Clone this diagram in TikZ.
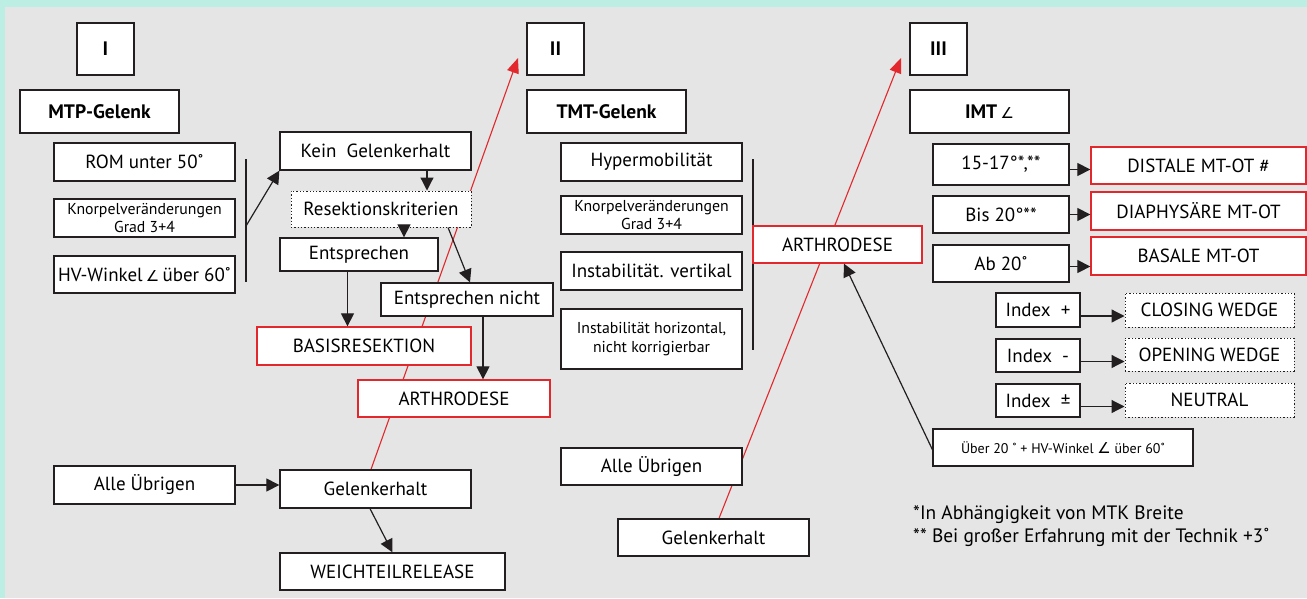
\documentclass[tikz,border=0pt]{standalone}
\usepackage{fontspec}
\setmainfont{PT Sans}
\newfontfamily\symf{DejaVu Sans}
\usetikzlibrary{arrows.meta}
\definecolor{bgteal}{HTML}{BDEEE3}
\definecolor{bggray}{HTML}{E4E5E4}
\definecolor{boxred}{HTML}{E2282C}
\definecolor{ink}{HTML}{231F20}
\newcommand{\ang}{{\symf\fontsize{15}{15}\selectfont ∠}}
\pgfdeclarelayer{bg}
\pgfsetlayers{bg,main}
\tikzset{
  box/.style={draw=ink, line width=1.3pt, fill=white, inner sep=0pt, align=center, font=\fontsize{19}{21}\selectfont},
  redbox/.style={box, draw=boxred},
  dotbox/.style={box, dotted, line width=1pt},
  small/.style={font=\fontsize{15.8}{18.5}\selectfont},
  hd/.style={font=\bfseries\fontsize{19.5}{21}\selectfont},
  arr/.style={-{Triangle[length=13pt,width=13pt]}, line width=1.2pt, draw=ink},
  redarr/.style={-{Triangle[length=15pt,width=12pt]}, line width=1.1pt, draw=boxred},
  bar/.style={line width=1.4pt, draw=ink}
}
\begin{document}
\begin{tikzpicture}[x=1pt,y=-1pt]
\begin{pgfonlayer}{bg}
\fill[bgteal] (0,0) rectangle (1307,598);
\fill[bggray] (5,7) rectangle (1307,598);
\end{pgfonlayer}
\useasboundingbox (0,0) rectangle (1307,598);

% ---------- I ----------
\node[box,hd,minimum width=57,minimum height=52] (nI) at (105.5,49) {I};
\node[box,hd,minimum width=159,minimum height=43] (mtp) at (99.5,111.5) {MTP-Gelenk};
\node[box,minimum width=181,minimum height=38] (rom) at (144.5,162) {ROM unter 50˚};
\node[box,small,minimum width=181,minimum height=38] (kn1) at (144.5,218) {Knorpelveränderungen\\Grad 3+4};
\node[box,minimum width=181,minimum height=37] (hv) at (144.5,274.5) {HV-Winkel\,\ang\,über 60˚};
\coordinate (v1t) at (246,159);
\coordinate (v1b) at (246,282);
\coordinate (v1) at (246,226);
\draw[bar] (v1t) -- (v1b);
\node[box,minimum width=191,minimum height=38] (kein) at (375.5,151) {Kein\ \ Gelenkerhalt};
\node[dotbox,minimum width=180,minimum height=36] (resek) at (381,209) {Resektionskriterien};
\node[box,minimum width=158,minimum height=33] (ents) at (359,254.5) {Entsprechen};
\node[box,minimum width=172,minimum height=33] (entsn) at (467,299.5) {Entsprechen nicht};
\node[redbox,minimum width=214,minimum height=38] (basis) at (364,346) {BASISRESEKTION};
\node[redbox,minimum width=192,minimum height=37] (arth1) at (454,398.5) {ARTHRODESE};
\node[box,minimum width=181,minimum height=38] (alle1) at (144.5,485) {Alle Übrigen};
\node[box,minimum width=191,minimum height=38] (gel1) at (375.5,489) {Gelenkerhalt};
\node[box,minimum width=225,minimum height=37] (weich) at (392.5,571.5) {WEICHTEILRELEASE};

\draw[arr] (v1) -- (kein.south west);
\draw[arr] ([xshift=51.5pt]kein.south) -- ([xshift=51.5pt]kein.south |- resek.north);
\draw[arr] ([xshift=23pt]resek.south) -- ([xshift=23pt]resek.south |- ents.north);
\draw[arr] ([xshift=67pt]resek.south) -- ([xshift=3pt]entsn.north);
\draw[arr] ([xshift=-11.5pt]ents.south) -- ([xshift=-11.5pt]ents.south |- basis.north);
\draw[arr] ([xshift=16pt]entsn.south) -- ([xshift=16pt]entsn.south |- arth1.north);
\draw[arr] (alle1.east) -- (alle1.east -| gel1.west);
\draw[arr] ([xshift=-5.5pt]gel1.south) -- (weich.north);

% ---------- II ----------
\node[box,hd,minimum width=57,minimum height=52] (nII) at (555.5,49) {II};
\node[box,hd,minimum width=159,minimum height=43] (tmt) at (606.5,111.5) {TMT-Gelenk};
\node[box,minimum width=181,minimum height=38] (hyper) at (651.5,162) {Hypermobilität};
\node[box,small,minimum width=181,minimum height=38] (kn2) at (651.5,215) {Knorpelveränderungen\\Grad 3+4};
\node[box,minimum width=181,minimum height=38] (instv) at (651.5,271) {Instabilität. vertikal};
\node[box,small,minimum width=181,minimum height=60] (insth) at (651.5,339) {Instabilität horizontal,\\nicht korrigierbar};
\coordinate (v2t) at (753,159);
\coordinate (v2b) at (753,350);
\draw[bar] (v2t) -- (v2b);
\node[redbox,minimum width=169,minimum height=37] (arth2) at (837.5,244.5) {ARTHRODESE};
\node[box,minimum width=181,minimum height=37] (alle2) at (651.5,466.5) {Alle Übrigen};
\node[box,minimum width=191,minimum height=37] (gel2) at (713.5,537.5) {Gelenkerhalt};

% ---------- III ----------
\node[box,hd,minimum width=57,minimum height=52] (nIII) at (938.5,49) {III};
\node[box,hd,minimum width=159,minimum height=43] (imt) at (989.5,111.5) {IMT\,{\mdseries\ang}};
\node[box,minimum width=136,minimum height=41] (d15) at (1001,164.5) {15-17°*,**};
\node[box,minimum width=136,minimum height=37] (bis) at (1001,214.5) {Bis 20°**};
\node[box,minimum width=136,minimum height=37] (ab) at (1001,263.5) {Ab 20˚};
\node[redbox,minimum width=215,minimum height=37] (dist) at (1198.5,165.5) {DISTALE MT-OT \#};
\node[redbox,minimum width=215,minimum height=38] (diaph) at (1198.5,211) {DIAPHYSÄRE MT-OT};
\node[redbox,minimum width=215,minimum height=38] (basal) at (1198.5,256) {BASALE MT-OT};
\draw[arr] ([yshift=-5pt]d15.east) -- ([yshift=-5pt]d15.east -| dist.west);
\draw[arr] (bis.east) -- (bis.east -| diaph.west);
\draw[arr] ([yshift=-3pt]ab.east) -- ([yshift=-3pt]ab.east -| basal.west);

\node[box,minimum width=84,minimum height=34] (ip) at (1038,310) {Index\ \ +};
\node[box,minimum width=84,minimum height=33] (im) at (1038,355.5) {Index\ \ -};
\node[box,minimum width=84,minimum height=33] (ipm) at (1038,400.5) {Index\ \ ±};
\node[dotbox,minimum width=169,minimum height=34] (clos) at (1209.5,310) {CLOSING WEDGE};
\node[dotbox,minimum width=169,minimum height=33] (open) at (1209.5,354.5) {OPENING WEDGE};
\node[dotbox,minimum width=169,minimum height=34] (neut) at (1209.5,400) {NEUTRAL};
\draw[arr] ([yshift=-6pt]ip.east) -- ([yshift=-6pt]ip.east -| clos.west);
\draw[arr] ([yshift=-6pt]im.east) -- ([yshift=-6pt]im.east -| open.west);
\draw[arr] ([yshift=-6pt]ipm.east) -- ([yshift=-6pt]ipm.east -| neut.west);

\node[box,font=\fontsize{14}{16}\selectfont,minimum width=260,minimum height=37] (ueber) at (1063,447.5) {Über 20 ˚ + HV-Winkel \ang\ über 60˚};
\draw[arr] ([yshift=-2pt]ueber.west) -- ([xshift=6.5pt]arth2.south);

\node[anchor=west,inner sep=0pt,align=left,font=\fontsize{19.4}{23}\selectfont] (fn) at (913,526.5) {*In Abhängigkeit von MTK Breite\\** Bei großer Erfahrung mit der Technik +3˚};

% red connectors behind boxes
\coordinate (tipII) at (518,58);
\coordinate (tipIII) at (901,58);
\begin{pgfonlayer}{bg}
\draw[redarr] ([xshift=-4.5pt]gel1.north) -- (tipII);
\draw[redarr] ([xshift=5.5pt]gel2.north) -- (tipIII);
\end{pgfonlayer}
\end{tikzpicture}
\end{document}
